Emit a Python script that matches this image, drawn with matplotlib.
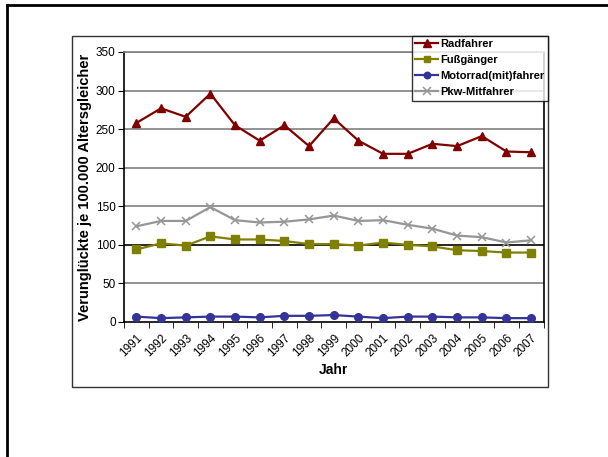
#!/usr/bin/env python3
import numpy as np
import matplotlib.pyplot as plt
from matplotlib.patches import Rectangle
from matplotlib.lines import Line2D

plt.rcParams['font.family'] = ['Liberation Sans', 'DejaVu Sans']

# daten
jahre = ['1991', '1992', '1993', '1994', '1995', '1996', '1997', '1998', '1999',
         '2000', '2001', '2002', '2003', '2004', '2005', '2006', '2007']
radfahrer = [258, 277, 266, 296, 255, 235, 255, 228, 264, 235, 218, 218, 231, 228, 241, 221, 220]
fussgaenger = [94, 102, 99, 111, 107, 107, 105, 101, 101, 99, 103, 100, 98, 93, 92, 90, 90]
motorrad = [7, 5, 6, 7, 7, 6, 8, 8, 9, 7, 5, 7, 7, 6, 6, 5, 5]
pkw = [124, 131, 131, 149, 132, 129, 130, 133, 138, 131, 132, 126, 121, 112, 110, 103, 106]
yticks = [0, 50, 100, 150, 200, 250, 300, 350]

W, H = 608, 457
fig = plt.figure(figsize=(W / 100, H / 100), dpi=100)

# aeusserer rahmen (nur links und oben sichtbar)
fig.add_artist(Line2D([7 / W, 1], [1 - 5 / H, 1 - 5 / H], color='black', lw=2.0,
                      transform=fig.transFigure))
fig.add_artist(Line2D([7 / W, 7 / W], [0, 1 - 5 / H], color='black', lw=2.0,
                      transform=fig.transFigure))
# diagrammrahmen
fig.add_artist(Rectangle((72 / W, 1 - 386.5 / H), (547.5 - 72) / W, (386.5 - 35.5) / H,
                         fill=False, edgecolor='#333333', lw=1.0, transform=fig.transFigure))

ax = fig.add_axes([124 / W, 1 - 322 / H, (543.5 - 124) / W, (322 - 52) / H])
x = np.arange(len(jahre))

ax.plot(x, radfahrer, color='#800000', lw=1.6, marker='^', ms=6, label='Radfahrer', zorder=4)
ax.plot(x, fussgaenger, color='#808000', lw=1.6, marker='s', ms=5.5, label='Fußgänger', zorder=4)
ax.plot(x, motorrad, color='#333399', lw=1.6, marker='o', ms=5.5, label='Motorrad(mit)fahrer', zorder=4)
ax.plot(x, pkw, color='#969696', lw=1.6, marker='x', ms=6, mew=1.1, label='Pkw-Mitfahrer', zorder=4)

ax.set_xlim(-0.5, len(jahre) - 0.5)
ax.set_ylim(0, 350)
ax.set_yticks(yticks)
ax.tick_params(axis='y', labelsize=8.5, length=4, direction='out', pad=2)
for yv in yticks[1:]:
    ax.axhline(yv, color='black' if yv == 100 else '#808080', lw=1.2, zorder=1)

ax.set_xticks(x)
ax.set_xticklabels(jahre, rotation=45, ha='right', rotation_mode='anchor', fontsize=8.5)
ax.tick_params(axis='x', length=0, pad=7)
ax.set_xticks(np.arange(len(jahre) + 1) - 0.5, minor=True)
ax.tick_params(axis='x', which='minor', length=4, direction='out')

for s in ['left', 'bottom', 'right', 'top']:
    ax.spines[s].set_linewidth(1.2)
ax.spines['top'].set_color('#808080')

ax.set_xlabel('Jahr', fontsize=10, fontweight='bold', labelpad=3)
ax.set_ylabel('Verunglückte je 100.000 Altersgleicher', fontsize=10.5, fontweight='bold', labelpad=3)

leg = fig.legend(loc='upper right', bbox_to_anchor=(547.5 / W, 1 - 35.5 / H),
                 fontsize=8, frameon=True, fancybox=False, borderpad=0.3, markerscale=0.85,
                 handlelength=2.0, handletextpad=0.2, labelspacing=0.55, borderaxespad=0)
leg.get_frame().set_edgecolor('black')
leg.get_frame().set_linewidth(1.0)
for t in leg.get_texts():
    t.set_fontweight('bold')

plt.savefig('out.png', dpi=100)
